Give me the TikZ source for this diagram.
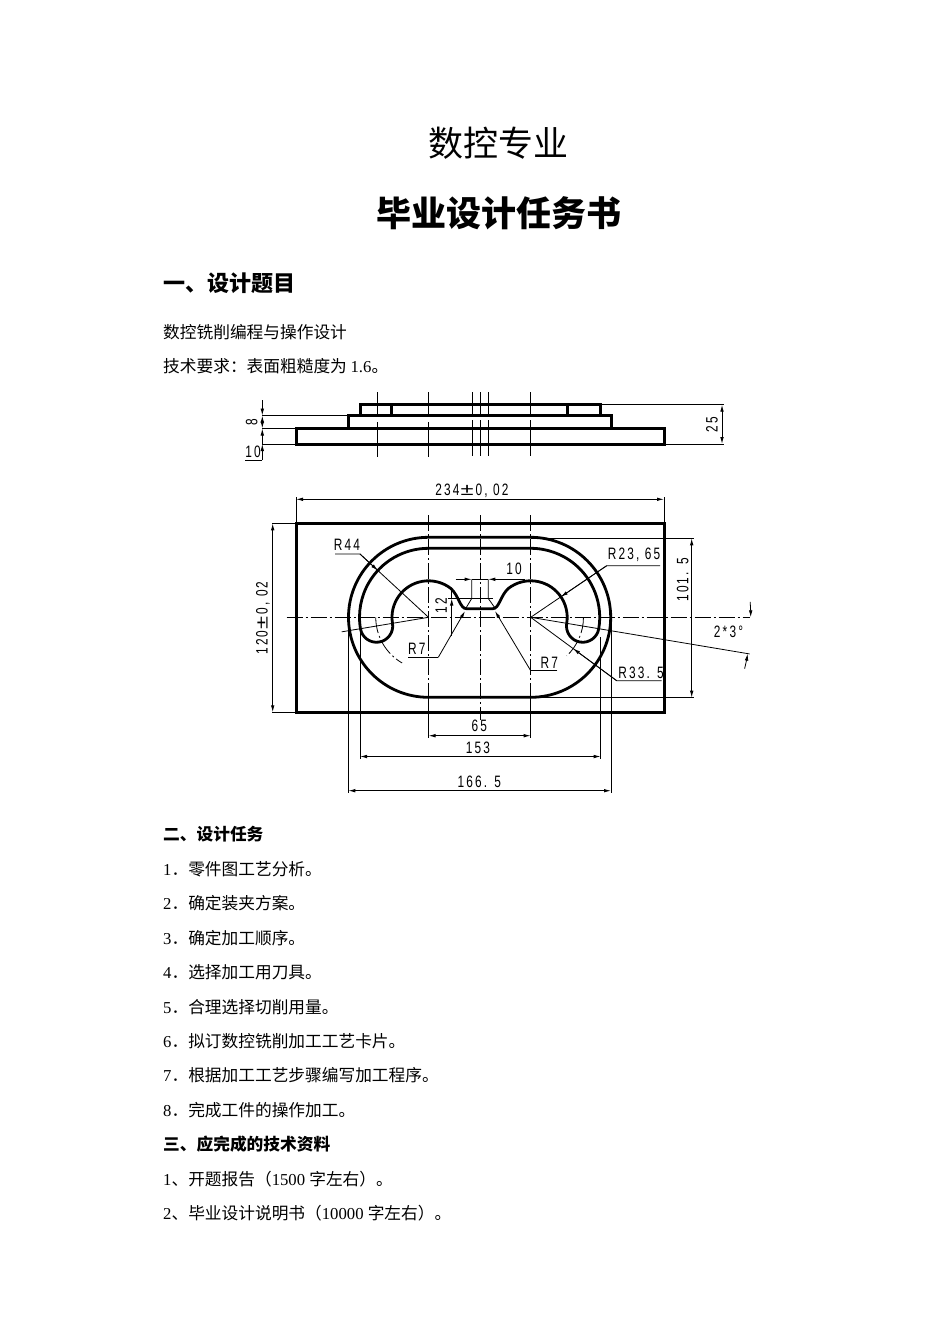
\documentclass[tikz,border=0pt]{standalone}
\usepackage{fontspec}
\setmainfont{Liberation Serif}
\newfontfamily\cjk{Noto Sans CJK SC}
\newfontfamily\dimfont[FakeStretch=0.72,LetterSpace=13]{Liberation Sans}
\newfontfamily\pmfont[FakeStretch=1.4]{Liberation Sans}
\newcommand{\pmsign}{\hspace{1pt}{\pmfont\fontsize{17}{17}\selectfont ±}\hspace{2pt}}
\usetikzlibrary{arrows.meta,positioning,calc}
\tikzset{
    outline/.style={line width=3pt, line join=miter},
    profile/.style={line width=2.8pt, line join=round},
    extline/.style={line width=0.8pt},
    axisline/.style={line width=0.8pt, dash pattern=on 16pt off 3pt on 2pt off 3pt},
    dimline/.style={line width=0.9pt, {Latex[length=7pt, width=3.6pt]}-{Latex[length=7pt, width=3.6pt]}},
    tipline/.style={line width=0.8pt, -{Latex[length=7pt, width=3.6pt]}},
    dimtext/.style={inner sep=0pt, font=\dimfont\fontsize{16.5}{16.5}\selectfont},
    bodytext/.style={inner sep=0pt, anchor=west, text height=14pt, text depth=3pt,
        font=\cjk\fontsize{16.7}{20}\selectfont},
    nextline/.style={bodytext, below=17.05pt of #1.south west, anchor=north west}
}

\begin{document}
\begin{tikzpicture}[x=1pt, y=1pt]
    \useasboundingbox (0,-1344) rectangle (950,0);

    \node[font=\cjk\fontsize{35}{40}\selectfont, inner sep=0pt] (title) at (498.5,-143) {数控专业};
    \node[font=\cjk\bfseries\fontsize{35}{40}\selectfont, inner sep=0pt] (subtitle) at (498.5,-213) {毕业设计任务书};
    \node[font=\cjk\bfseries\fontsize{22}{26}\selectfont, inner sep=0pt, anchor=west] (h1) at (163,-283) {一、设计题目};
    \node[bodytext] (topic) at (163,-332.5) {数控铣削编程与操作设计};
    \node[nextline=topic] (req) {技术要求：表面粗糙度为 {\rmfamily 1.6}。};

    \node[bodytext, font=\cjk\bfseries\fontsize{16.7}{20}\selectfont] (h2) at (163,-835.3) {二、设计任务};
    \node[nextline=h2] (t1) {{\rmfamily 1}．零件图工艺分析。};
    \node[nextline=t1] (t2) {{\rmfamily 2}．确定装夹方案。};
    \node[nextline=t2] (t3) {{\rmfamily 3}．确定加工顺序。};
    \node[nextline=t3] (t4) {{\rmfamily 4}．选择加工用刀具。};
    \node[nextline=t4] (t5) {{\rmfamily 5}．合理选择切削用量。};
    \node[nextline=t5] (t6) {{\rmfamily 6}．拟订数控铣削加工工艺卡片。};
    \node[nextline=t6] (t7) {{\rmfamily 7}．根据加工工艺步骤编写加工程序。};
    \node[nextline=t7] (t8) {{\rmfamily 8}．完成工件的操作加工。};
    \node[nextline=t8, font=\cjk\bfseries\fontsize{16.7}{20}\selectfont] (h3) {三、应完成的技术资料};
    \node[nextline=h3] (r1) {{\rmfamily 1}、开题报告（{\rmfamily 1500 }字左右）。};
    \node[nextline=r1] (r2) {{\rmfamily 2}、毕业设计说明书（{\rmfamily 10000 }字左右）。};

    \draw[outline] (296,-428.3) rectangle (664,-444);
    \draw[outline] (348.3,-415) rectangle (611,-428.3);
    \draw[outline] (360,-404.7) rectangle (600.7,-415);
    \draw[outline] (391.7,-404.7) -- (391.7,-415);
    \draw[outline] (567.7,-404.7) -- (567.7,-415);

    \draw[extline] (377,-392) -- (377,-415) (377,-422) -- (377,-457);
    \draw[extline] (428.7,-392) -- (428.7,-415) (428.7,-422) -- (428.7,-457);
    \draw[extline] (472,-392) -- (472,-415) (472,-420) -- (472,-456);
    \draw[extline] (480,-392) -- (480,-415) (480,-420) -- (480,-456);
    \draw[extline] (488,-392) -- (488,-415) (488,-420) -- (488,-456);
    \draw[extline] (530.7,-392) -- (530.7,-415) (530.7,-420) -- (530.7,-456);

    \draw[extline] (262.3,-415.5) -- (360,-415.5);
    \draw[extline] (262.3,-428.5) -- (296,-428.5);
    \draw[extline] (262.3,-444) -- (296,-444);
    \draw[tipline] (262.3,-400) -- (262.3,-415.5);
    \draw[dimline] (262.3,-428.5) -- (262.3,-415.5);
    \draw[tipline] (262.3,-444) -- (262.3,-428.5);
    \draw[tipline] (262.3,-460) -- (262.3,-444);
    \draw[extline] (245,-460) -- (262.3,-460);
    \node[dimtext, rotate=90] (d8) at (251.7,-422) {8};
    \node[dimtext] (d10) at (253,-452) {10};

    \draw[extline] (601,-404.7) -- (724,-404.7);
    \draw[extline] (664,-444) -- (724,-444);
    \draw[dimline] (722,-404.7) -- (722,-444);
    \node[dimtext, rotate=90] (d25) at (712,-425) {25};

    \draw[extline] (296,-497) -- (296,-523);
    \draw[extline] (664,-497) -- (664,-523);
    \draw[dimline] (296,-499.3) -- (664,-499.3);
    \node[dimtext] (d234) at (472,-491) {234\pmsign 0, 02};

    \draw[outline] (296,-523.3) rectangle (664,-712.3);

    \coordinate (cl) at (428.5,-617.3);
    \coordinate (cr) at (530.7,-617.3);

    \draw[profile] ([shift={(90:80)}]cl) arc (90:270:80) -- ([shift={(270:80)}]cr) arc (270:450:80) -- cycle;

    \draw[profile] ([shift={(90:69)}]cl) arc (90:189.5:69) arc (189.5:369.5:16.25) arc (189.5:52:36.5)
        .. controls (459,-596) and (460,-608.7) .. (466.5,-608.7) -- (492.7,-608.7)
        .. controls (499.2,-608.7) and (500.2,-596) .. ([shift={(128:36.5)}]cr)
        arc (128:-9.5:36.5) arc (170.5:350.5:16.25) arc (-9.5:90:69) -- cycle;

    \draw[axisline] (286.7,-617.3) -- (750,-617.3);
    \draw[axisline] (428.5,-515) -- (428.5,-698);
    \draw[axisline] (480,-515) -- (480,-720);
    \draw[axisline] (530.7,-515) -- (530.7,-698);
    \draw[axisline] ([shift={(180:52.75)}]cl) arc (180:240:52.75);
    \draw[axisline] ([shift={(0:52.75)}]cr) arc (0:-47:52.75);

    \draw[extline] (cl) -- ++(189.5:88);
    \draw[extline] (cr) -- ++(-9.5:222) coordinate (ang);
    \draw[tipline] ([shift={(4:220)}]cr) arc (4:0:220);
    \draw[tipline] ([shift={(-13.5:220)}]cr) arc (-13.5:-9.5:220);
    \node[dimtext] (d23) at (728.5,-632) {2*3°};

    \draw[extline] (428.5,-698) -- (428.5,-738);
    \draw[extline] (530.7,-698) -- (530.7,-738);
    \draw[dimline] (428.5,-735.7) -- (530.7,-735.7);
    \node[dimtext] (d65) at (479.3,-726) {65};

    \draw[extline] (360,-630) -- (360,-759);
    \draw[extline] (600.7,-637) -- (600.7,-759);
    \draw[dimline] (360,-756.5) -- (600.7,-756.5);
    \node[dimtext] (d153) at (478,-747.5) {153};

    \draw[extline] (348.3,-620) -- (348.3,-793);
    \draw[extline] (611,-620) -- (611,-793);
    \draw[dimline] (348.3,-790.7) -- (611,-790.7);
    \node[dimtext] (d166) at (479.3,-782.3) {166. 5};

    \draw[extline] (272,-523.3) -- (296,-523.3);
    \draw[extline] (272,-712.3) -- (296,-712.3);
    \draw[dimline] (272.7,-523.3) -- (272.7,-712.3);
    \node[dimtext, rotate=90] (d120) at (263,-618) {120\pmsign 0, 02};

    \draw[extline] (530.7,-538.3) -- (694,-538.3);
    \draw[extline] (530.7,-697.7) -- (694,-697.7);
    \draw[dimline] (691.7,-538.3) -- (691.7,-697.7);
    \node[dimtext, rotate=90] (d101) at (682.7,-580) {101. 5};

    \node[dimtext] (r44) at (347,-545) {R44};
    \coordinate (r44a) at (335,-554);
    \coordinate (r44b) at (360,-554);
    \draw[extline] (r44a) -- (r44b) -- (cl);
    \draw[tipline] (r44b) -- (377.8,-570.5);

    \node[dimtext] (r7l) at (416.7,-649.3) {R7};
    \coordinate (r7la) at (408.3,-657.3);
    \coordinate (r7lb) at (438.3,-657.3);
    \draw[extline] (r7la) -- (r7lb);
    \draw[tipline] (r7lb) -- (465,-611);

    \node[dimtext] (r7r) at (549.3,-662.7) {R7};
    \coordinate (r7ra) at (557.3,-670.7);
    \coordinate (r7rb) at (530.7,-670.7);
    \draw[extline] (r7ra) -- (r7rb);
    \draw[tipline] (r7rb) -- (495,-611);

    \node[dimtext] (r23) at (634,-555) {R23, 65};
    \coordinate (r23a) at (660,-565.7);
    \coordinate (r23b) at (606.7,-565.7);
    \draw[extline] (r23a) -- (r23b) -- (cr);
    \draw[tipline] (r23b) -- (560.9,-596.8);

    \node[dimtext] (r33) at (641,-673.3) {R33. 5};
    \coordinate (r33a) at (661.7,-680.7);
    \coordinate (r33b) at (616.7,-680.7);
    \draw[extline] (r33a) -- (r33b) -- (cr);
    \draw[tipline] (r33b) -- (573.2,-648.6);

    \draw[extline] (448.3,-598.5) -- (493,-598.5);
    \draw[extline] (451.7,-588) -- (451.7,-598.5);
    \draw[tipline] (451.7,-636) -- (451.7,-598.5);
    \node[dimtext, rotate=90] (d12) at (441,-606) {12};

    \draw[extline] (471.7,-579.3) -- (471.7,-598.5) -- (466,-608);
    \draw[extline] (488.3,-579.3) -- (488.3,-598.5) -- (495,-608);
    \draw[extline] (471.7,-579.3) -- (488.3,-579.3);
    \draw[tipline] (455.7,-579.3) -- (471.7,-579.3);
    \draw[tipline] (525,-579.3) -- (488.3,-579.3);
    \node[dimtext] (d10b) at (514,-569) {10};
\end{tikzpicture}
\end{document}
